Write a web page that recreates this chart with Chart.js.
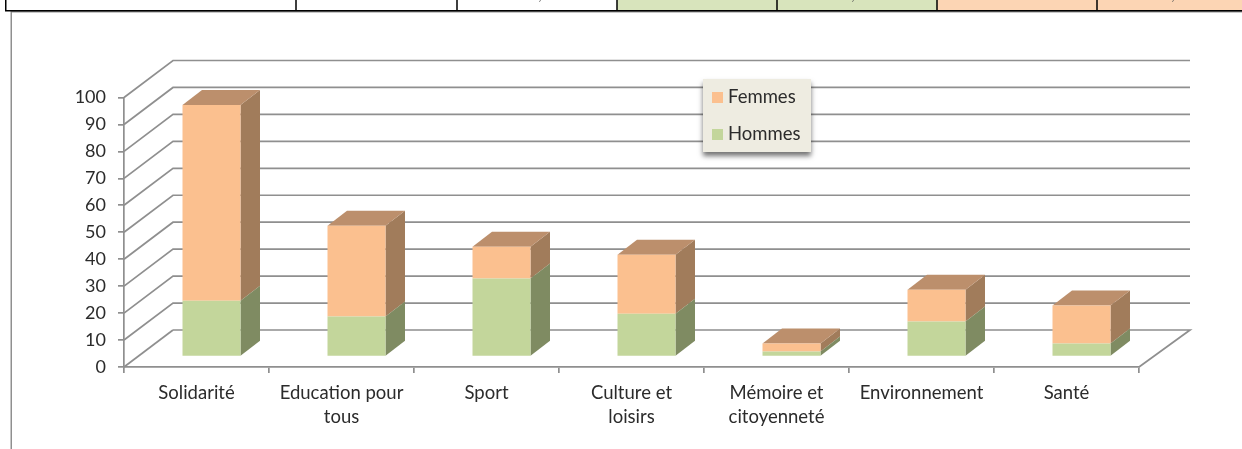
<!DOCTYPE html>
<html lang="fr">
<head>
<meta charset="utf-8">
<title>Femmes et Hommes par domaine</title>
<style>
html,body{margin:0;padding:0;background:#fff;overflow:hidden}
canvas{display:block}
</style>
<script src="https://cdn.jsdelivr.net/npm/chart.js@4"></script>
</head>
<body>
<canvas id="c" width="1242" height="449"></canvas>
<script>
const categories = ["Solidarité", ["Education pour","tous"], "Sport", ["Culture et","loisirs"], ["Mémoire et","citoyenneté"], "Environnement", "Santé"];
const hommes = [20.7, 14.8, 28.9, 15.9, 1.9, 13.0, 4.8];
const femmes = [72.6, 33.7, 11.8, 21.9, 2.9, 11.8, 14.1];
const yTicks = [0,10,20,30,40,50,60,70,80,90,100];
const legendOrder = ["Femmes","Hommes"];
const tableDividers = [296,457,617,777,937,1097];
const tableMarks = [540,853,1173];

const FONT = 'Lato, "Open Sans", sans-serif';
const GRID = '#8f8f8f', TEXT = '#2b2b2b';
const WALL = {dx:49, dy:-37, endX:1190};
const BAR_POS = {dx:15, dy:-10.5};
const BAR_DEPTH = {dx:19.5, dy:-15};
const palette = {
  Hommes:{front:'#C3D69B', side:'#7F8B62', top:null},
  Femmes:{front:'#FBC08F', side:'#A17C5B', top:'#BC8F6C'}
};

function poly(ctx, pts, fill){
  ctx.beginPath();
  pts.forEach((p,i)=> i ? ctx.lineTo(p[0],p[1]) : ctx.moveTo(p[0],p[1]));
  ctx.closePath();
  ctx.fillStyle = fill;
  ctx.fill();
}

const page = {
  id:'page',
  beforeDraw(chart){
    const ctx = chart.ctx;
    ctx.save();
    ctx.fillStyle='#fff'; ctx.fillRect(0,0,1242,449);
    ctx.fillStyle='#D8E4BC'; ctx.fillRect(617,0,320,10);
    ctx.fillStyle='#FCD5B4'; ctx.fillRect(937,0,305,10);
    ctx.fillStyle='#8f8f8f'; ctx.fillRect(11,11,1231,1.5); ctx.fillRect(10.5,11,1.5,438);
    ctx.fillStyle='#000'; ctx.fillRect(5,10,1237,1.5); ctx.fillRect(5,0,1.5,11);
    tableDividers.forEach(x=>ctx.fillRect(x-.75,0,1.5,11));
    ctx.fillStyle='#555';
    ctx.font='15px '+FONT; ctx.textAlign='center'; ctx.textBaseline='alphabetic';
    tableMarks.forEach(x=>ctx.fillText(',',x,-0.5));
    ctx.restore();
  },
  beforeDatasetsDraw(chart){
    const ctx=chart.ctx, y=chart.scales.y, a=chart.chartArea;
    ctx.save();
    ctx.strokeStyle=GRID; ctx.lineWidth=1.7;
    yTicks.forEach(v=>{
      const py=y.getPixelForValue(v);
      ctx.beginPath();
      ctx.moveTo(a.left,py);
      ctx.lineTo(a.left+WALL.dx,py+WALL.dy);
      if(v>0) ctx.lineTo(WALL.endX,py+WALL.dy);
      ctx.stroke();
    });
    const b=y.getPixelForValue(0);
    ctx.beginPath();
    ctx.moveTo(a.left+WALL.dx,b+WALL.dy);
    ctx.lineTo(WALL.endX,b+WALL.dy);
    ctx.lineTo(a.right,b);
    ctx.stroke();
    ctx.restore();
  },
  beforeDatasetDraw(chart,args){
    const ctx=chart.ctx, meta=args.meta, col=palette[meta.label];
    ctx.save();
    ctx.translate(BAR_POS.dx,BAR_POS.dy);
    meta.data.forEach(el=>{
      const {x,y,base,width}=el.getProps(['x','y','base','width'],true);
      const l=x-width/2, r=x+width/2, dx=BAR_DEPTH.dx, dy=BAR_DEPTH.dy;
      poly(ctx,[[r,y],[r+dx,y+dy],[r+dx,base+dy],[r,base]],col.side);
      if(col.top) poly(ctx,[[l,y],[r,y],[r+dx,y+dy],[l+dx,y+dy]],col.top);
    });
  },
  afterDatasetDraw(chart){ chart.ctx.restore(); },
  afterDatasetsDraw(chart){
    const ctx=chart.ctx;
    ctx.save();
    ctx.shadowColor='rgba(0,0,0,.55)'; ctx.shadowBlur=5; ctx.shadowOffsetY=4; ctx.shadowOffsetX=0;
    ctx.fillStyle='#EEECE1'; ctx.fillRect(703,79,108,73);
    ctx.shadowColor='transparent';
    ctx.font='18.5px '+FONT; ctx.textAlign='left'; ctx.textBaseline='middle';
    legendOrder.forEach((name,i)=>{
      const top=[92,129][i], c=[97,134][i];
      ctx.fillStyle=palette[name].front; ctx.fillRect(712,top,11,11);
      ctx.fillStyle=TEXT; ctx.fillText(name,728,c);
    });
    ctx.restore();
  }
};

function series(label,data){
  const col=palette[label];
  return {label,data,backgroundColor:col.front,borderWidth:0,clip:false,stack:'s',
          categoryPercentage:.4,barPercentage:1};
}

new Chart(document.getElementById('c'),{
  type:'bar',
  data:{labels:categories,datasets:[series('Hommes',hommes),series('Femmes',femmes)]},
  plugins:[page],
  options:{
    responsive:false,animation:false,devicePixelRatio:1,
    layout:{padding:{top:97.5,right:103,left:0,bottom:0}},
    plugins:{legend:{display:false},tooltip:{enabled:false},title:{display:false}},
    scales:{
      x:{stacked:true,
         afterFit(s){s.height=82;},
         grid:{offset:true,drawOnChartArea:false,tickLength:6,color:GRID,lineWidth:1.7},
         border:{color:GRID,width:1.7},
         ticks:{autoSkip:false,maxRotation:0,minRotation:0,color:TEXT,padding:8,
                font:{family:FONT,size:18.5,lineHeight:1.3}}},
      y:{stacked:true,min:0,max:100,
         afterFit(s){s.width=124;},
         grid:{drawOnChartArea:false,tickLength:6,color:GRID,lineWidth:1.7},
         border:{color:GRID,width:1.7},
         ticks:{stepSize:10,color:TEXT,padding:12,font:{family:FONT,size:18}}}
    }
  }
});
</script>
</body>
</html>
